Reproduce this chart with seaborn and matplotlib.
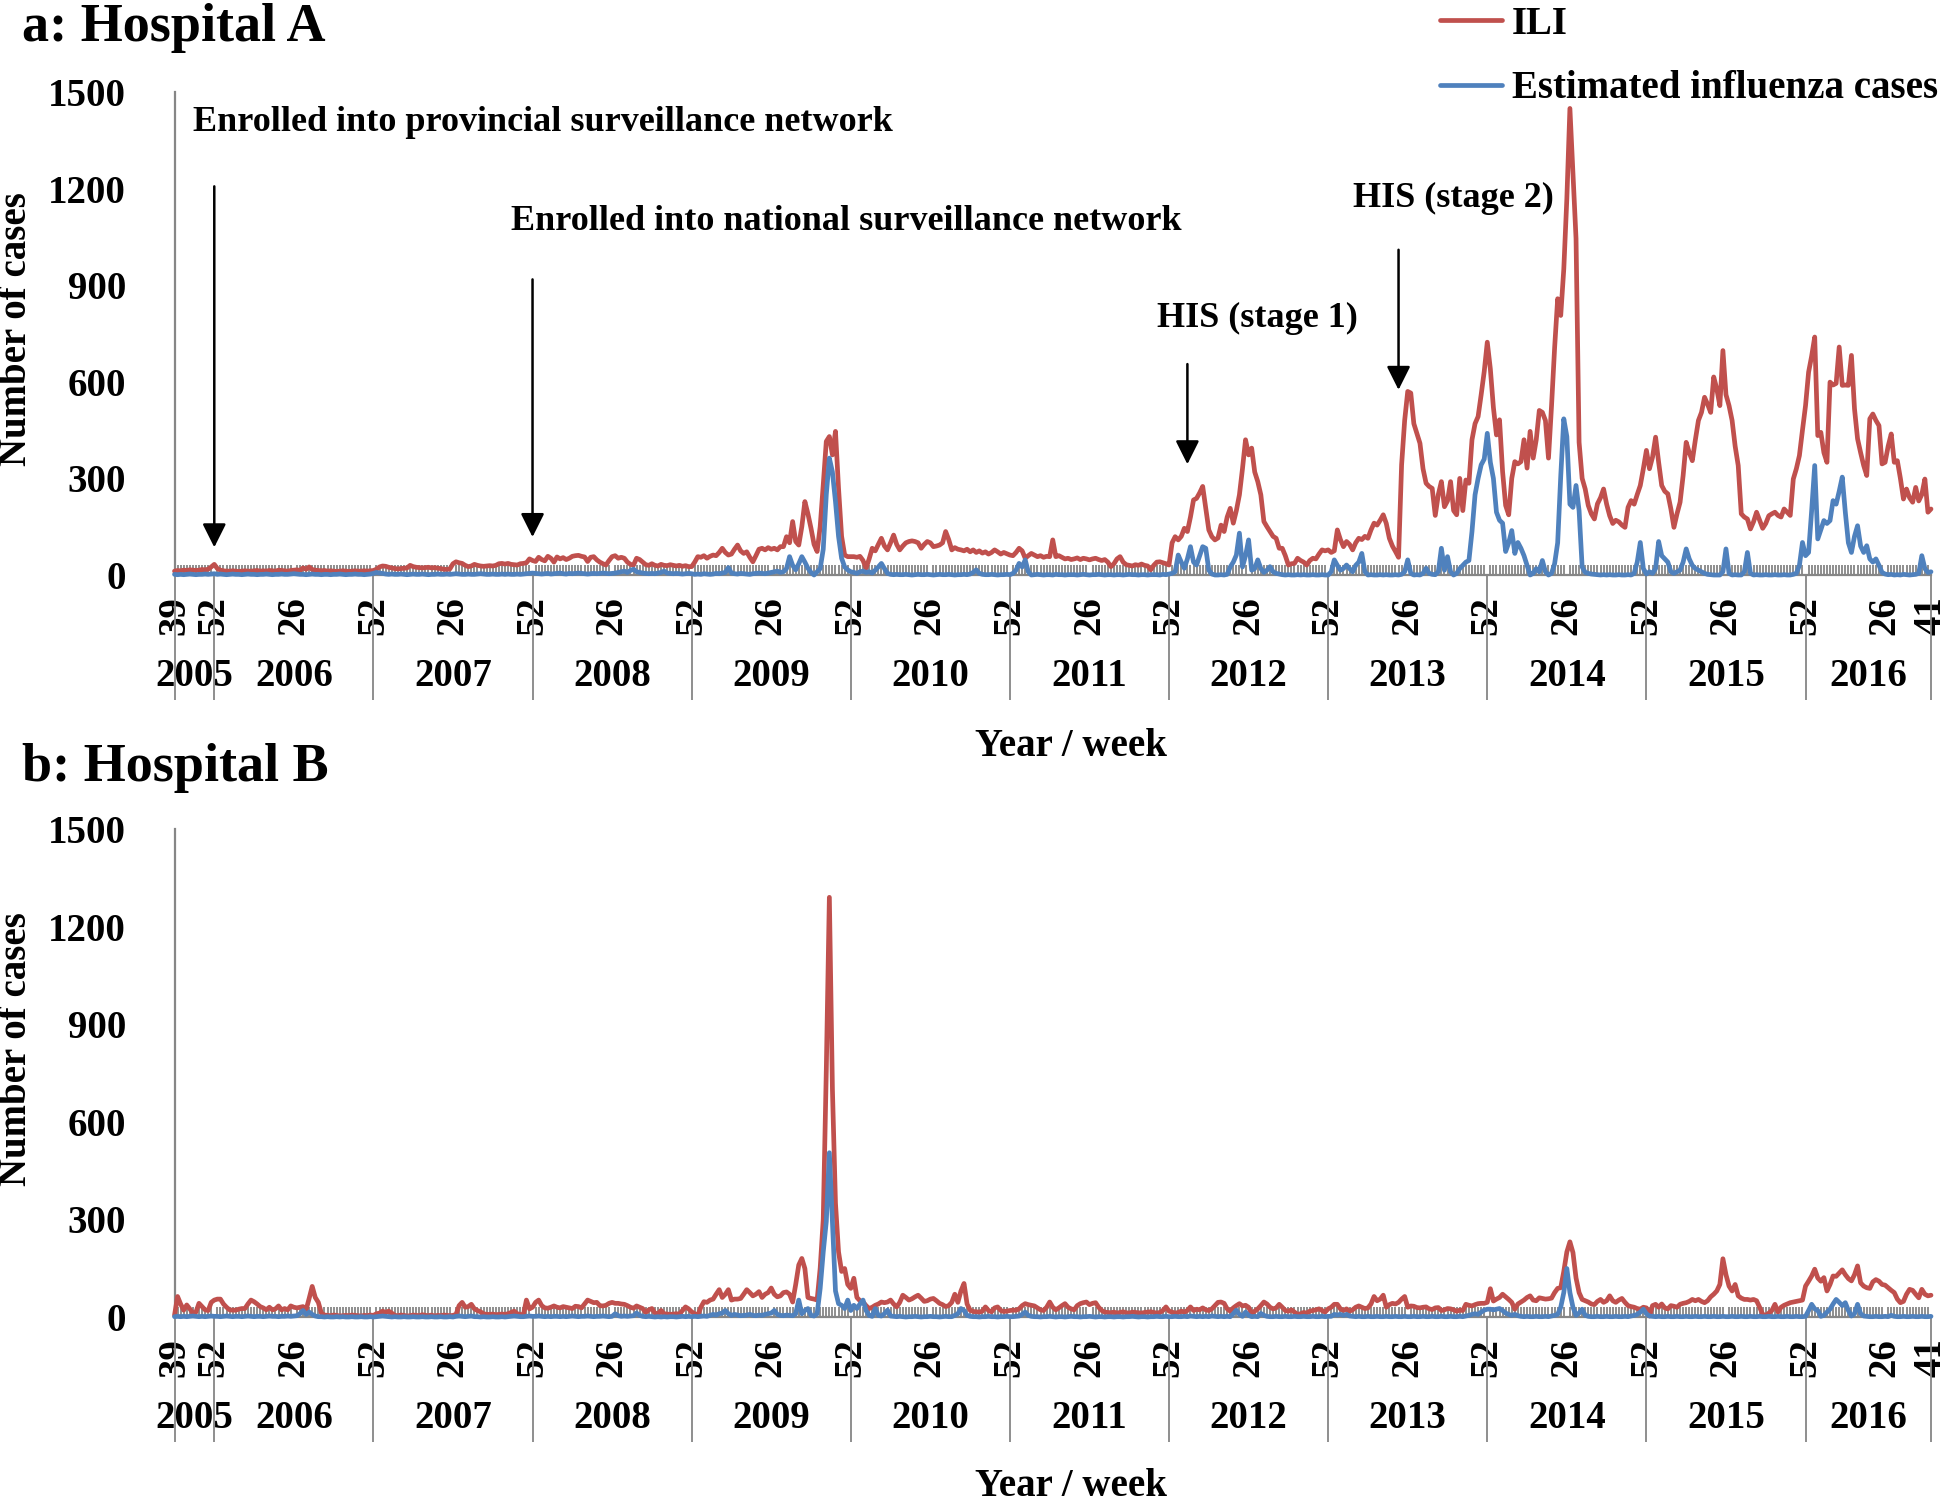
import numpy as np
import pandas as pd
import seaborn as sns
import matplotlib.pyplot as plt

# weekly counts, 2005 week 39 -> 2016 week 41 (one row per year in the comments)
ili_a = [
    12, 14, 13, 15, 14, 16, 15, 14, 15, 17, 16, 18, 25, 33,  # 2005
    20, 15, 13, 12, 12, 13, 12, 11, 12, 13, 12, 12, 13, 14, 12, 13, 12, 14, 13, 12, 15, 14, 13, 12, 14, 15,
    16, 14, 22, 18, 25, 17, 15, 14, 13, 14, 12, 13, 12, 11, 12, 13, 12, 11, 12, 13, 12, 12, 13, 12, 13, 14,  # 2006
    18, 25, 28, 27, 24, 22, 20, 19, 20, 21, 22, 30, 26, 24, 23, 22, 23, 24, 22, 23, 21, 20, 18, 17, 19, 35,
    41, 38, 36, 30, 26, 28, 33, 30, 28, 27, 28, 29, 28, 30, 35, 36, 34, 36, 33, 32, 31, 35, 36, 38, 50, 45,  # 2007
    42, 55, 48, 44, 58, 52, 40, 56, 50, 54, 48, 52, 58, 60, 61, 58, 56, 42, 55, 57, 47, 40, 35, 31, 45, 57,
    60, 52, 55, 52, 40, 33, 31, 52, 48, 40, 32, 30, 35, 30, 28, 33, 30, 29, 32, 30, 28, 30, 27, 29, 26, 26,  # 2008
    40, 57, 55, 60, 52, 58, 62, 60, 70, 83, 70, 62, 65, 80, 93, 75, 67, 72, 55, 41, 60, 80, 83, 78, 85, 80,
    83, 78, 88, 88, 119, 100, 166, 104, 93, 150, 228, 190, 145, 95, 73, 150, 280, 415, 430, 373, 446, 269, 120, 62, 57, 57,  # 2009
    57, 55, 58, 45, 21, 50, 83, 75, 95, 114, 90, 78, 100, 124, 95, 78, 90, 100, 104, 106, 104, 100, 83, 95, 104, 100,
    88, 90, 93, 100, 135, 110, 78, 85, 80, 78, 75, 80, 72, 78, 70, 75, 68, 72, 65, 70, 78, 72, 65, 70, 66, 62,  # 2010
    60, 70, 83, 75, 52, 60, 67, 62, 57, 60, 55, 58, 57, 109, 57, 60, 55, 50, 52, 48, 50, 53, 48, 52, 50, 47,
    50, 52, 48, 45, 48, 40, 26, 35, 50, 57, 40, 32, 30, 28, 32, 30, 34, 30, 28, 16, 30, 40, 41, 38, 35, 31,  # 2011
    100, 119, 109, 120, 145, 135, 180, 233, 238, 255, 275, 207, 140, 119, 109, 115, 155, 135, 180, 207, 161, 200, 249, 330, 420, 373,
    394, 320, 290, 249, 166, 150, 135, 120, 114, 83, 83, 60, 31, 35, 36, 52, 45, 40, 31, 45, 52, 50, 65, 78, 75, 78,  # 2012
    70, 75, 140, 110, 88, 104, 95, 78, 100, 114, 110, 120, 114, 140, 161, 155, 170, 187, 160, 114, 90, 73, 55, 342, 480, 570,
    565, 470, 440, 409, 330, 285, 275, 269, 185, 250, 290, 212, 230, 290, 200, 187, 300, 200, 295, 285, 420, 470, 492, 560, 632, 723,  # 2013
    640, 520, 435, 482, 321, 216, 187, 300, 352, 345, 352, 420, 332, 446, 363, 420, 511, 505, 480, 363, 526, 705, 858, 806, 950, 1169,
    1449, 1250, 1045, 412, 300, 267, 216, 190, 174, 221, 240, 267, 220, 184, 160, 170, 165, 155, 148, 210, 231, 220, 250, 278, 330, 387,  # 2014
    330, 366, 428, 350, 278, 260, 252, 205, 148, 190, 226, 309, 412, 380, 355, 420, 480, 505, 552, 530, 505, 615, 578, 526, 697, 560,
    526, 480, 400, 340, 190, 180, 174, 143, 165, 195, 170, 145, 160, 184, 190, 195, 185, 180, 205, 195, 185, 298, 330, 371, 450, 526,  # 2015
    630, 680, 739, 433, 443, 380, 350, 599, 590, 595, 708, 589, 590, 589, 682, 516, 423, 380, 340, 309, 485,
    500, 480, 464, 345, 350, 400, 438, 350, 355, 300, 236, 267, 240, 226, 272, 230, 250, 298, 195, 205,  # 2016
]

flu_a = [
    2, 1, 2, 1, 2, 3, 2, 1, 2, 2, 3, 2, 3, 4,
    2, 3, 2, 1, 2, 3, 2, 2, 1, 2, 3, 2, 2, 1, 2, 2, 3, 2, 1, 2, 2, 3, 2, 2, 3, 4,
    3, 2, 2, 1, 2, 3, 2, 2, 1, 2, 2, 1, 2, 2, 3, 2, 1, 2, 2, 3, 2, 2, 1, 2, 3, 5,
    8, 6, 5, 3, 2, 3, 2, 2, 3, 2, 1, 2, 3, 2, 2, 3, 2, 1, 2, 2, 3, 2, 2, 3, 2, 3,
    4, 3, 2, 2, 3, 2, 2, 3, 4, 3, 2, 2, 3, 2, 2, 3, 2, 3, 2, 2, 3, 2, 3, 4, 5, 6,
    5, 4, 3, 4, 5, 3, 4, 5, 6, 4, 3, 5, 4, 5, 6, 5, 4, 3, 4, 5, 4, 5, 6, 5, 4, 5,
    6, 8, 10, 12, 8, 14, 18, 10, 8, 6, 5, 4, 5, 4, 6, 8, 12, 6, 5, 4, 5, 4, 3, 4, 5, 4,
    2, 3, 2, 4, 3, 2, 3, 5, 4, 6, 8, 23, 6, 4, 3, 5, 4, 3, 2, 4, 5, 6, 5, 4, 6, 8,
    10, 12, 8, 10, 20, 57, 30, 16, 35, 57, 40, 21, 8, 0, 10, 20, 80, 250, 363, 320, 228, 120, 52, 25, 16, 10,
    8, 5, 10, 12, 8, 10, 6, 15, 25, 36, 20, 5, 2, 1, 2, 1, 1, 2, 1, 0, 1, 2, 1, 1, 2, 1,
    0, 1, 2, 1, 1, 2, 1, 0, 1, 1, 2, 1, 3, 8, 16, 5, 2, 1, 1, 2, 1, 0, 1, 1, 2, 1,
    5, 15, 36, 25, 47, 10, 0, 1, 2, 1, 0, 1, 1, 0, 2, 1, 1, 0, 1, 1, 1, 0, 1, 2, 1, 0,
    1, 1, 2, 1, 0, 1, 1, 0, 1, 1, 0, 1, 2, 1, 1, 0, 1, 1, 0, 1, 1, 1, 0, 2, 1, 3,
    5, 10, 62, 40, 21, 50, 88, 40, 31, 60, 88, 83, 15, 3, 0, 0, 1, 0, 2, 25, 40, 62, 130, 25, 60, 109,
    15, 20, 47, 20, 8, 15, 26, 10, 5, 3, 1, 0, 1, 0, 0, 1, 0, 1, 0, 0, 1, 0, 0, 1, 0, 0,
    10, 47, 30, 15, 20, 31, 20, 10, 30, 40, 67, 10, 0, 1, 0, 0, 1, 0, 1, 0, 0, 1, 0, 2, 10, 47,
    5, 0, 1, 0, 5, 21, 5, 2, 1, 10, 83, 15, 57, 10, 0, 5, 20, 30, 40, 45, 135, 249, 300, 342, 360, 440,
    350, 300, 195, 170, 161, 73, 100, 138, 67, 101, 83, 60, 30, 0, 5, 20, 10, 45, 10, 0, 5, 35, 100, 306, 485, 430,
    220, 210, 278, 200, 25, 8, 5, 3, 2, 1, 0, 1, 0, 1, 0, 0, 1, 0, 0, 1, 0, 5, 40, 101, 20, 3,
    10, 5, 20, 104, 60, 50, 40, 10, 5, 10, 15, 40, 81, 50, 30, 20, 15, 10, 5, 2, 1, 0, 0, 0, 10, 81,
    5, 0, 1, 0, 0, 10, 70, 5, 0, 1, 0, 0, 1, 0, 0, 1, 0, 0, 1, 0, 0, 2, 5, 30, 101, 60,
    70, 200, 340, 112, 140, 169, 160, 169, 231, 220, 260, 304, 195, 100, 70, 120, 153, 90, 70, 91, 50,
    40, 50, 30, 8, 3, 1, 2, 0, 1, 0, 2, 1, 0, 1, 2, 5, 60, 20, 8, 10,
]

ili_b = [
    5, 63, 40, 21, 37, 25, 12, 15, 42, 32, 22, 20, 45, 52,
    55, 55, 40, 30, 22, 21, 21, 24, 26, 26, 40, 52, 47, 40, 32, 28, 22, 30, 22, 25, 34, 22, 26, 22, 34, 30,
    28, 30, 32, 22, 57, 94, 60, 45, 12, 6, 5, 4, 6, 5, 3, 4, 5, 4, 6, 5, 4, 3, 5, 4, 6, 5,
    10, 12, 18, 14, 18, 12, 5, 4, 6, 5, 3, 4, 6, 5, 4, 7, 5, 4, 6, 3, 5, 4, 6, 5, 4, 5,
    8, 35, 45, 30, 32, 39, 25, 20, 16, 10, 8, 8, 9, 7, 8, 9, 8, 10, 14, 18, 10, 8, 6, 52, 25, 30,
    45, 52, 35, 28, 27, 30, 34, 30, 28, 32, 30, 28, 26, 33, 32, 28, 40, 52, 48, 44, 45, 35, 34, 36, 42, 45,
    42, 42, 40, 39, 35, 30, 27, 34, 30, 26, 14, 22, 26, 12, 10, 20, 10, 9, 8, 9, 10, 9, 20, 31, 25, 16,
    10, 5, 30, 47, 45, 52, 55, 70, 84, 60, 70, 84, 52, 55, 55, 57, 70, 84, 75, 65, 70, 78, 60, 70, 75, 89,
    70, 62, 65, 75, 77, 70, 46, 100, 160, 180, 149, 60, 57, 55, 52, 150, 300, 760, 1290, 700, 350, 200, 140, 149, 100, 88,
    119, 60, 50, 46, 35, 26, 30, 36, 40, 46, 44, 46, 52, 40, 31, 45, 67, 60, 52, 56, 62, 67, 58, 48, 50, 55,
    57, 50, 42, 38, 32, 35, 45, 70, 45, 80, 103, 40, 21, 17, 16, 15, 18, 31, 20, 16, 28, 31, 20, 17, 18, 20,
    21, 21, 25, 35, 41, 38, 36, 34, 28, 22, 20, 30, 46, 30, 22, 28, 35, 41, 30, 25, 22, 35, 41, 44, 46, 38,
    42, 44, 30, 20, 15, 14, 13, 15, 12, 14, 16, 13, 12, 15, 14, 13, 12, 14, 15, 16, 14, 12, 14, 20, 31, 18,
    15, 12, 14, 18, 15, 20, 31, 20, 24, 22, 28, 22, 20, 25, 35, 45, 46, 42, 25, 18, 28, 35, 41, 34, 36, 30,
    10, 18, 25, 35, 46, 40, 30, 25, 28, 39, 30, 20, 18, 22, 15, 8, 10, 14, 12, 18, 20, 22, 25, 20, 15, 25,
    30, 39, 39, 25, 20, 25, 18, 22, 30, 34, 30, 26, 28, 40, 63, 50, 55, 67, 30, 38, 42, 40, 45, 55, 63, 30,
    34, 33, 29, 28, 30, 31, 25, 23, 28, 29, 20, 22, 26, 25, 22, 18, 21, 20, 39, 36, 34, 38, 41, 42, 42, 45,
    87, 49, 55, 60, 70, 62, 54, 45, 24, 40, 46, 52, 60, 65, 52, 50, 59, 57, 55, 56, 58, 75, 88, 90, 140, 200,
    231, 198, 120, 75, 54, 50, 46, 40, 38, 48, 54, 45, 50, 65, 50, 45, 52, 57, 45, 35, 32, 30, 26, 24, 30, 28,
    3, 35, 39, 30, 40, 28, 25, 35, 33, 30, 39, 42, 44, 48, 54, 50, 54, 48, 44, 50, 62, 70, 80, 100, 179, 130,
    95, 80, 100, 65, 58, 54, 54, 52, 54, 50, 30, 8, 5, 12, 20, 39, 15, 30, 36, 40, 44, 46, 48, 50, 52, 95,
    110, 126, 147, 120, 110, 121, 80, 100, 126, 125, 135, 145, 130, 118, 111, 130, 157, 105, 95, 90, 88,
    108, 115, 110, 100, 98, 90, 82, 75, 55, 44, 48, 70, 85, 82, 70, 59, 85, 70, 65, 67,
]

flu_b = [
    1, 2, 1, 2, 1, 2, 3, 2, 1, 2, 1, 2, 3, 2,
    2, 1, 2, 3, 2, 1, 2, 2, 1, 2, 3, 2, 1, 2, 2, 1, 2, 3, 2, 2, 1, 2, 2, 3, 2, 3,
    4, 10, 20, 8, 15, 8, 3, 1, 1, 0, 1, 0, 0, 1, 0, 1, 0, 0, 1, 0, 0, 1, 0, 0, 1, 0,
    1, 2, 3, 2, 1, 0, 1, 0, 0, 1, 0, 0, 1, 0, 0, 1, 0, 0, 1, 0, 0, 1, 0, 0, 1, 0,
    2, 3, 2, 1, 2, 3, 1, 1, 0, 1, 0, 0, 1, 0, 0, 1, 0, 1, 2, 3, 2, 1, 1, 2, 3, 2,
    2, 3, 2, 1, 2, 1, 2, 2, 1, 2, 1, 2, 3, 2, 1, 2, 2, 3, 2, 1, 2, 2, 3, 2, 1, 2,
    10, 4, 2, 3, 2, 3, 4, 12, 5, 2, 1, 2, 1, 0, 1, 0, 1, 0, 1, 1, 0, 1, 2, 1, 2, 1,
    2, 1, 2, 3, 2, 5, 8, 6, 10, 12, 20, 10, 5, 8, 6, 4, 5, 6, 8, 5, 4, 6, 5, 8, 10, 12,
    20, 8, 5, 4, 6, 5, 4, 10, 52, 10, 20, 26, 5, 3, 10, 88, 200, 294, 505, 294, 80, 41, 36, 26, 52, 20,
    36, 26, 40, 52, 20, 5, 2, 26, 5, 3, 10, 21, 3, 2, 1, 2, 1, 0, 1, 1, 2, 1, 0, 1, 1, 2,
    1, 1, 0, 1, 2, 1, 1, 5, 10, 26, 20, 5, 2, 1, 1, 0, 1, 1, 2, 1, 1, 0, 1, 1, 2, 1,
    1, 2, 3, 8, 15, 5, 2, 1, 1, 0, 1, 1, 2, 1, 0, 1, 1, 0, 1, 2, 1, 1, 0, 1, 1, 2,
    1, 0, 1, 1, 0, 1, 1, 0, 1, 1, 0, 1, 1, 2, 1, 0, 1, 1, 0, 1, 1, 2, 1, 1, 2, 1,
    1, 2, 1, 1, 2, 1, 3, 2, 1, 2, 1, 2, 1, 3, 2, 1, 2, 1, 2, 1, 10, 21, 8, 2, 15, 5,
    1, 2, 1, 11, 5, 2, 1, 1, 2, 1, 1, 2, 1, 1, 2, 1, 1, 2, 1, 1, 2, 1, 1, 2, 1, 2,
    2, 8, 6, 8, 5, 8, 3, 2, 1, 2, 1, 1, 2, 1, 1, 2, 1, 1, 2, 1, 1, 2, 1, 1, 2, 1,
    1, 2, 1, 1, 2, 1, 1, 2, 1, 1, 2, 1, 1, 2, 1, 1, 2, 1, 3, 5, 8, 10, 8, 15, 21, 24,
    24, 22, 24, 26, 20, 12, 8, 5, 8, 4, 2, 1, 2, 1, 1, 2, 1, 1, 2, 1, 3, 5, 8, 30, 75, 149,
    75, 30, 5, 12, 24, 5, 2, 1, 1, 2, 1, 1, 2, 1, 1, 2, 1, 1, 2, 1, 3, 5, 8, 15, 24, 10,
    3, 2, 1, 2, 1, 1, 2, 1, 1, 2, 1, 1, 2, 1, 1, 2, 1, 1, 2, 1, 1, 2, 1, 1, 2, 1,
    1, 2, 1, 1, 2, 1, 1, 2, 1, 1, 2, 1, 1, 2, 1, 1, 2, 1, 1, 2, 1, 1, 2, 1, 1, 2,
    20, 39, 25, 20, 2, 5, 15, 24, 40, 54, 45, 35, 44, 20, 3, 10, 39, 10, 3, 2, 1,
    1, 2, 1, 1, 2, 1, 5, 2, 1, 1, 2, 1, 1, 2, 1, 1, 2, 1, 1, 2,
]

years = list(range(2005, 2017))
start_week = 39    # first week shown in 2005
end_week = 41      # last week shown in 2016
weeks_per_year = 52
y_ticks = [0, 300, 600, 900, 1200, 1500]

# (label, arrow year, arrow week, text year/week, text value, arrow top, arrow tip)
events = [
    ("Enrolled into provincial surveillance network", 2005, 52, (2005, 45), 1404, 1207, 86),
    ("Enrolled into national surveillance network", 2007, 52, (2007, 45), 1099, 918, 118),
    ("HIS (stage 1)", 2012, 6, (2011, 48), 798, 655, 344),
    ("HIS (stage 2)", 2013, 23, (2013, 8), 1169, 1010, 575),
]

RED = "#C0504D"
BLUE = "#4F81BD"
GREY = "#868686"

# ---- year / week table ----
yr_col, wk_col = [], []
for y in years:
    first = start_week if y == years[0] else 1
    last = end_week if y == years[-1] else weeks_per_year
    for w in range(first, last + 1):
        yr_col.append(y)
        wk_col.append(w)

df = pd.DataFrame({"year": yr_col, "week": wk_col})
df["idx"] = np.arange(len(df))
for name, vals in [("ili_a", ili_a), ("flu_a", flu_a), ("ili_b", ili_b), ("flu_b", flu_b)]:
    assert len(vals) == len(df), (name, len(vals), len(df))
    df[name] = vals

n_last = int(df["idx"].iloc[-1])


def week_pos(y, w):
    row = df[(df.year == y) & (df.week == w)]
    return float(row["idx"].iloc[0])


sep_pos = [0] + df.loc[df.week == 52, "idx"].tolist() + [n_last]
tick_rows = df[(df.week == 52) | (df.week == 26) | (df.idx == 0) | (df.idx == n_last)]
tick_pos = tick_rows["idx"].tolist()
tick_lab = tick_rows["week"].astype(str).tolist()
year_mid = [(sep_pos[k] + sep_pos[k + 1]) / 2 for k in range(len(years))]

# ---- style ----
sns.set_style("white")
plt.rcParams["font.family"] = ["Liberation Serif", "DejaVu Serif"]
plt.rcParams["font.weight"] = "bold"
plt.rcParams["axes.labelweight"] = "bold"
plt.rcParams["text.color"] = "black"
plt.rcParams["xtick.color"] = "black"
plt.rcParams["ytick.color"] = "black"
plt.rcParams["xtick.labelcolor"] = "black"
plt.rcParams["ytick.labelcolor"] = "black"

W, H = 1946, 1504
fig = plt.figure(figsize=(W / 100, H / 100), dpi=100)

# axes boxes in pixels (left, y of value 0, y of value 1500)
boxes = {"a": (174.5, 575, 92), "b": (174.5, 1317, 829)}
right_px = 1931

axes = {}
for key, (lpx, y0px, y1px) in boxes.items():
    ax = fig.add_axes([lpx / W, 1 - y0px / H, (right_px - lpx) / W, (y0px - y1px) / H])
    axes[key] = ax
    hpx = y0px - y1px

    sns.lineplot(data=df, x="idx", y="ili_" + key, ax=ax, color=RED, linewidth=3.4,
                 label="ILI", legend=False, zorder=3)
    sns.lineplot(data=df, x="idx", y="flu_" + key, ax=ax, color=BLUE, linewidth=3.4,
                 label="Estimated influenza cases", legend=False, zorder=4)
    for ln in ax.get_lines():
        ln.set_clip_on(False)
        ln.set_solid_joinstyle("round")

    ax.set_xlim(0, n_last)
    ax.set_ylim(0, 1500)
    ax.set_yticks(y_ticks)
    ax.set_yticklabels([str(v) for v in y_ticks], fontsize=28, fontweight="bold")
    ax.set_xticks(tick_pos)
    ax.set_xticklabels(tick_lab, rotation=90, fontsize=28, fontweight="bold")
    # one small inward tick per week -> grey hatching along the axis
    ax.set_xticks(df["idx"].tolist(), minor=True)
    ax.tick_params(axis="x", which="minor", bottom=True, direction="in", length=7.5,
                   width=1.2, color="#7c7c7c")
    ax.tick_params(axis="x", which="major", length=0, pad=15)
    ax.tick_params(axis="y", which="major", direction="out", length=5, width=1.3, color=GREY, pad=30)
    ax.set_xlabel("")
    ax.set_ylabel("")
    for s in ["top", "right"]:
        ax.spines[s].set_visible(False)
    for s in ["left", "bottom"]:
        ax.spines[s].set_color(GREY)
        ax.spines[s].set_linewidth(1.6)

    # year separators and year labels under the week labels
    trans = ax.get_xaxis_transform()
    ax.vlines(sep_pos, -125 / hpx, 0, transform=trans, colors=GREY, linewidth=1.3, clip_on=False)
    for y, xm in zip(years, year_mid):
        ax.text(xm, -102 / hpx, str(y), transform=trans, ha="center", va="center",
                fontsize=28, fontweight="bold")

# ---- annotations on panel a ----
ax_a = axes["a"]
for label, ey, ew, (ty, tw), tv, top, tip in events:
    xa = week_pos(ey, ew)
    xt = week_pos(ty, tw)
    ax_a.annotate("", xy=(xa, tip), xytext=(xa, top),
                  arrowprops=dict(arrowstyle="-|>", color="black", lw=1.8,
                                  mutation_scale=36, shrinkA=0, shrinkB=0))
    ax_a.text(xt, tv, label, ha="left", va="center", fontsize=26, fontweight="bold")

# ---- titles, axis labels, legend ----
fig.text(22 / W, 1 - 28 / H, "a: Hospital A", fontsize=39, fontweight="bold", ha="left", va="center")
fig.text(22 / W, 1 - 768 / H, "b: Hospital B", fontsize=39, fontweight="bold", ha="left", va="center")
fig.text(17 / W, 1 - 329 / H, "Number of cases", rotation=90, fontsize=28, fontweight="bold",
         ha="center", va="center")
fig.text(17 / W, 1 - 1049 / H, "Number of cases", rotation=90, fontsize=28, fontweight="bold",
         ha="center", va="center")
fig.text(1071 / W, 1 - 746 / H, "Year / week", fontsize=28, fontweight="bold", ha="center", va="center")
fig.text(1071 / W, 1 - 1487 / H, "Year / week", fontsize=28, fontweight="bold", ha="center", va="center")

handles = ax_a.get_lines()[:2]
leg = fig.legend(handles, ["ILI", "Estimated influenza cases"], loc="upper right",
                 bbox_to_anchor=(1938 / W, 0.996), frameon=False, prop={"size": 28, "weight": "bold"},
                 handlelength=1.6, handletextpad=0.25, labelspacing=0.7, borderpad=0.0,
                 borderaxespad=0.0)

fig.savefig("out.png", dpi=100)
